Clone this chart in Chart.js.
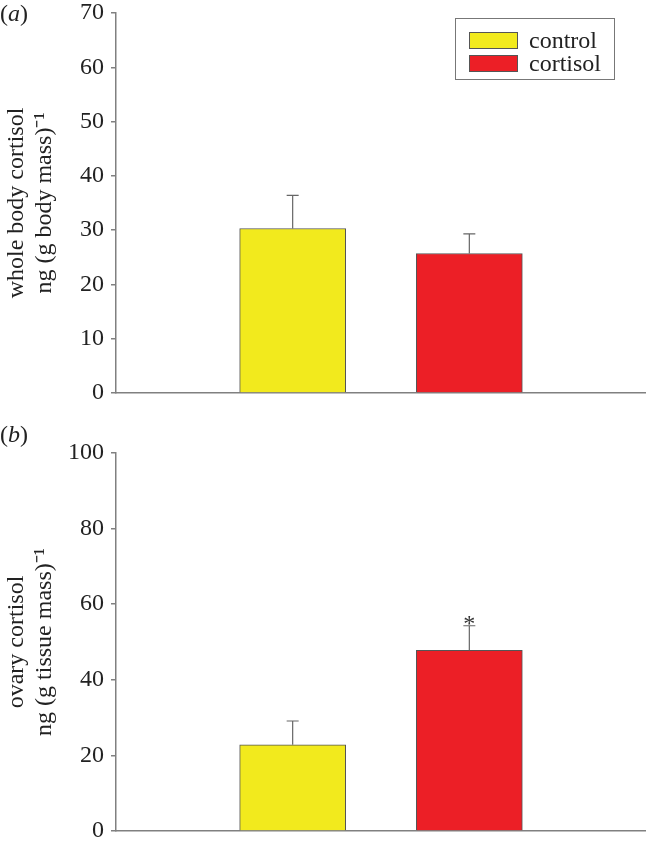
<!DOCTYPE html>
<html>
<head>
<meta charset="utf-8">
<script src="https://cdn.jsdelivr.net/npm/chart.js@4"></script>
<style>
  html, body { margin: 0; padding: 0; background: #fff; }
  body { width: 646px; height: 847px; position: relative; overflow: hidden;
         font-family: 'Liberation Serif', 'Times New Roman', serif; color: #222; }
  canvas { position: absolute; left: 0; }
  #chart-a { top: 0; }
  #chart-b { top: 420px; }
  .panel-tag { position: absolute; left: 0; font-size: 24px; line-height: 26px; }
  #legend { position: absolute; left: 455px; top: 18px; width: 160px; height: 62px;
            border: 1px solid #777; box-sizing: border-box; padding-top: 10px; }
  .lg-row { display: flex; align-items: center; height: 23px; margin-left: 13px; }
  .lg-swatch { width: 49px; height: 17px; box-sizing: border-box; border: 1px solid #555; margin-right: 11px; }
  .lg-text { font-size: 24px; line-height: 23px; }
</style>
</head>
<body>
<canvas id="chart-a" width="646" height="420"></canvas>
<canvas id="chart-b" width="646" height="427"></canvas>
<div class="panel-tag" style="top:0">(<i>a</i>)</div>
<div class="panel-tag" style="top:421px">(<i>b</i>)</div>
<div id="legend"></div>

<script>
'use strict';

/* ─── Data ──────────────────────────────────────────────────── */
// empty slots at each end so the two bars sit at 1/3 and 2/3 of the axis
const groups      = ['', 'control', 'cortisol', ''];
const groupColors = ['#fff', '#f2ea1d', '#ec1f26', '#fff'];

const wholeBody    = [null, 30.3, 25.7, null];
const wholeBodyErr = [null, 6.1, 3.6, null];
const wholeBodyTicks = { max: 70, step: 10 };

const ovary      = [null, 22.8, 47.8, null];
const ovaryErr   = [null, 6.3, 6.5, null];
const ovaryStars = ['', '', '*', ''];
const ovaryTicks = { max: 100, step: 20 };

const AXIS_GREY = '#808080';
const FONT = 'Liberation Serif';

/* ─── Error bars + significance marks ───────────────────────── */
const errorBarPlugin = {
  id: 'errorBars',
  afterDatasetsDraw(chart, args, opts) {
    const { ctx } = chart;
    const yScale = chart.scales.y;
    const meta = chart.getDatasetMeta(0);
    ctx.save();
    ctx.strokeStyle = '#666';
    ctx.lineWidth = 1.2;
    meta.data.forEach((bar, i) => {
      const v = chart.data.datasets[0].data[i];
      const e = opts.errors[i];
      if (v == null || e == null) return;
      const yTop = yScale.getPixelForValue(v + e);
      ctx.beginPath();
      ctx.moveTo(bar.x, bar.y);
      ctx.lineTo(bar.x, yTop);
      ctx.moveTo(bar.x - 6, yTop);
      ctx.lineTo(bar.x + 6, yTop);
      ctx.stroke();
      const star = (opts.stars || [])[i];
      if (star) {
        ctx.fillStyle = '#333';
        ctx.font = `24px ${FONT}`;
        ctx.textAlign = 'center';
        ctx.textBaseline = 'alphabetic';
        ctx.fillText(star, bar.x, yTop + 5);
      }
    });
    ctx.restore();
  }
};

/* ─── Panel builder ─────────────────────────────────────────── */
function makePanel(canvasId, values, errors, stars, ticks, title, pad) {
  return new Chart(document.getElementById(canvasId), {
    type: 'bar',
    data: {
      labels: groups,
      datasets: [{
        data: values,
        backgroundColor: groupColors,
        borderColor: '#555',
        borderWidth: 1,
        barThickness: 106,
      }]
    },
    plugins: [errorBarPlugin],
    options: {
      responsive: false,
      animation: false,
      layout: { padding: { top: pad.top, bottom: pad.bottom, left: 0, right: 0 } },
      plugins: {
        legend: { display: false },
        tooltip: { enabled: false },
        errorBars: { errors, stars },
      },
      scales: {
        x: {
          offset: false,
          grid: { display: false, drawTicks: false },
          border: { display: true, color: AXIS_GREY, width: 1.5 },
          ticks: { display: false },
        },
        y: {
          min: 0,
          max: ticks.max,
          afterFit: scale => { scale.width = 116; },
          grid: { drawOnChartArea: false, drawTicks: true, tickLength: 5, color: AXIS_GREY, lineWidth: 1.5 },
          border: { display: true, color: AXIS_GREY, width: 1.5 },
          ticks: {
            stepSize: ticks.step,
            padding: 7,
            color: '#222',
            // small line height keeps the end labels from pushing the plot area in
            font: { family: FONT, size: 24, lineHeight: 0.5 },
          },
          title: {
            display: true,
            text: title,
            color: '#222',
            padding: { top: 3, bottom: 0 },
            font: { family: FONT, size: 24, lineHeight: 1.17 },
          }
        }
      }
    }
  });
}

makePanel('chart-a', wholeBody, wholeBodyErr, null, wholeBodyTicks,
  ['whole body cortisol', 'ng (g body mass)\u207B\u00B9'], { top: 13, bottom: 27 });

makePanel('chart-b', ovary, ovaryErr, ovaryStars, ovaryTicks,
  ['ovary cortisol', 'ng (g tissue mass)\u207B\u00B9'], { top: 33, bottom: 16 });

/* ─── Legend (HTML, panel a) ────────────────────────────────── */
document.getElementById('legend').innerHTML = groups
  .map((g, i) => g ? `<div class="lg-row"><span class="lg-swatch" style="background:${groupColors[i]}"></span><span class="lg-text">${g}</span></div>` : '')
  .join('');
</script>
</body>
</html>
